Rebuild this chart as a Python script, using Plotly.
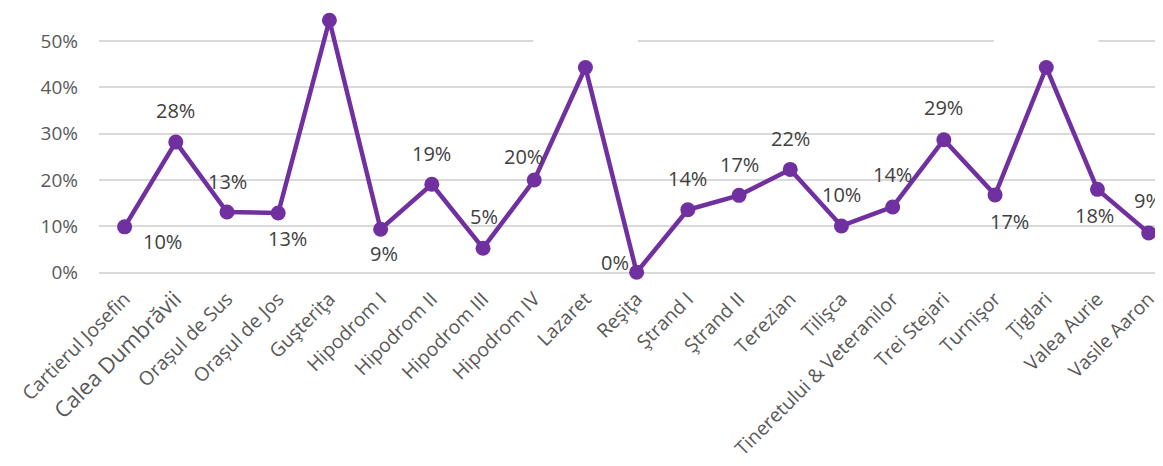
import plotly.graph_objects as go

categories = ["Cartierul Josefin", "Calea Dumbrăvii", "Orașul de Sus", "Orașul de Jos",
              "Guşteriţa", "Hipodrom I", "Hipodrom II", "Hipodrom III", "Hipodrom IV",
              "Lazaret", "Reşiţa", "Ştrand I", "Ştrand II", "Terezian", "Tilişca",
              "Tineretului & Veteranilor", "Trei Stejari", "Turnişor", "Ţiglari",
              "Valea Aurie", "Vasile Aaron"]
values = [0.099, 0.282, 0.131, 0.129, 0.545, 0.094, 0.191, 0.053, 0.200, 0.443,
          0.001, 0.136, 0.167, 0.223, 0.101, 0.142, 0.287, 0.168, 0.443, 0.180, 0.086]
show_label = [True, True, True, True, False, True, True, True, True, False,
              True, True, True, True, True, True, True, True, False, True, True]
gap_boxes = ["Lazaret", "Ţiglari"]
y_ticks = [0, 0.1, 0.2, 0.3, 0.4, 0.5]
y_ticktext = ["0%", "10%", "20%", "30%", "40%", "50%"]

# label offsets in pixels (style)
label_shift = [(38, -15), (0, 32), (0, 31), (9, -26), (0, 0), (3, -24), (0, 31), (1, 32),
               (-11, 24), (0, 0), (-22, 10), (0, 31), (0, 31), (0, 31), (0, 31), (0, 32),
               (0, 32), (14, -27), (0, 0), (-3, -26), (-1, 32)]

PURPLE = "#7030A0"
idx = list(range(len(categories)))

ticktext = [("<span style='font-size:22px'>%s</span>" % c) if c == "Calea Dumbrăvii" else c
            for c in categories]

fig = go.Figure()
fig.add_trace(go.Scatter(
    x=idx, y=values, mode="lines+markers",
    line=dict(color=PURPLE, width=4.5),
    marker=dict(color=PURPLE, size=15),
    cliponaxis=False, hoverinfo="skip",
))

for i, (c, v) in enumerate(zip(categories, values)):
    if show_label[i]:
        dx, dy = label_shift[i]
        fig.add_annotation(x=i, y=v, xref="x", yref="y", text=f"{v:.0%}",
                           showarrow=False, xshift=dx, yshift=dy,
                           font=dict(family="Open Sans", size=20, color="#404040"))

for name in gap_boxes:
    i = categories.index(name)
    fig.add_shape(type="rect", xref="x", yref="y", x0=i - 1.02, x1=i + 1.02,
                  y0=0.49, y1=0.51, fillcolor="white", line=dict(width=0),
                  layer="between")

fig.update_layout(
    width=1155, height=458,
    margin=dict(l=91, r=0, t=0, b=184, autoexpand=False),
    plot_bgcolor="white", paper_bgcolor="white",
    showlegend=False,
    font=dict(family="Open Sans", color="#595959"),
    xaxis=dict(range=[-0.5, 20.28], tickmode="array", tickvals=idx, ticktext=ticktext,
               tickangle=-45, tickfont=dict(size=19.3, color="#595959"),
               showgrid=False, zeroline=False, showline=False, ticks="",
               ticklabelstandoff=1, automargin=False),
    yaxis=dict(range=[-0.02, 0.5714], tickmode="array", tickvals=y_ticks, ticktext=y_ticktext,
               tickfont=dict(size=19, color="#595959"), showgrid=True,
               gridcolor="#D9D9D9", gridwidth=1.5, zeroline=False, showline=False,
               ticklabelstandoff=20, automargin=False),
)

fig.write_html("out.html")
